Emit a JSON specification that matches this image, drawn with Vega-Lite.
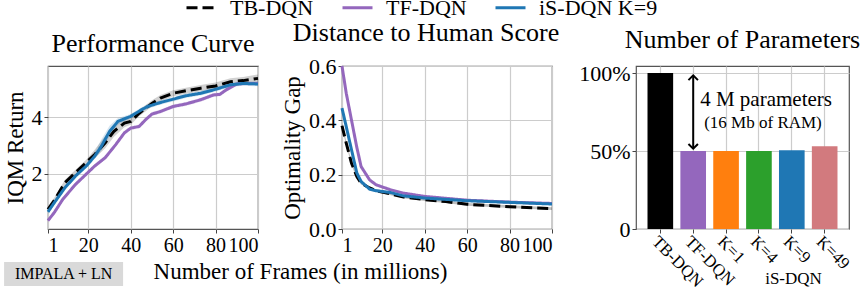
{
  "$schema": "https://vega.github.io/schema/vega-lite/v6.json",
  "background": "white",
  "padding": {"left": 3, "top": -9, "right": 0, "bottom": 2},
  "bounds": "flush",
  "spacing": 84,
  "config": {
    "font": "Times New Roman",
    "view": {"stroke": "#555555", "strokeWidth": 1.2},
    "axis": {
      "labelFont": "Times New Roman", "titleFont": "Times New Roman",
      "labelFontSize": 22, "titleFontSize": 23, "titleFontWeight": "normal",
      "labelColor": "#000000", "titleColor": "#000000", "labelOverlap": false,
      "gridColor": "#cccccc", "gridWidth": 1.2, "domain": false,
      "tickColor": "#444444", "tickSize": 4, "labelPadding": 2
    },
    "title": {"font": "Times New Roman", "fontSize": 26, "fontWeight": "normal", "color": "#000000", "offset": 9},
    "legend": {
      "orient": "none", "legendX": 137, "legendY": -75, "direction": "horizontal",
      "title": null, "symbolType": "stroke", "symbolStrokeWidth": 3, "symbolSize": 900, "symbolOpacity": 1,
      "labelFont": "Times New Roman", "labelFontSize": 22, "labelColor": "#000000",
      "columnPadding": 22, "labelOffset": 12
    }
  },
  "hconcat": [
    {
      "width": 210, "height": 163,
      "title": {"text": "Performance Curve"},
      "layer": [
        {
          "data": {"values": [
            {"m":"TB-DQN","x":1,"y":0.73,"lo":0.63,"hi":0.83},
            {"m":"TB-DQN","x":4,"y":1.05,"lo":0.95,"hi":1.15},
            {"m":"TB-DQN","x":9,"y":1.68,"lo":1.58,"hi":1.78},
            {"m":"TB-DQN","x":14,"y":2.04,"lo":1.94,"hi":2.14},
            {"m":"TB-DQN","x":19,"y":2.39,"lo":2.29,"hi":2.49},
            {"m":"TB-DQN","x":23,"y":2.68,"lo":2.55,"hi":2.85},
            {"m":"TB-DQN","x":28,"y":3.1,"lo":2.9,"hi":3.35},
            {"m":"TB-DQN","x":32,"y":3.5,"lo":3.3,"hi":3.7},
            {"m":"TB-DQN","x":37,"y":3.8,"lo":3.65,"hi":3.95},
            {"m":"TB-DQN","x":40,"y":3.86,"lo":3.74,"hi":3.98},
            {"m":"TB-DQN","x":44,"y":4.15,"lo":4.04,"hi":4.26},
            {"m":"TB-DQN","x":50,"y":4.5,"lo":4.39,"hi":4.61},
            {"m":"TB-DQN","x":54,"y":4.69,"lo":4.58,"hi":4.8},
            {"m":"TB-DQN","x":60,"y":4.86,"lo":4.75,"hi":4.97},
            {"m":"TB-DQN","x":66,"y":4.95,"lo":4.84,"hi":5.06},
            {"m":"TB-DQN","x":73,"y":5.04,"lo":4.93,"hi":5.15},
            {"m":"TB-DQN","x":80,"y":5.12,"lo":5.0,"hi":5.24},
            {"m":"TB-DQN","x":87,"y":5.27,"lo":5.15,"hi":5.39},
            {"m":"TB-DQN","x":93,"y":5.31,"lo":5.18,"hi":5.44},
            {"m":"TB-DQN","x":100,"y":5.39,"lo":5.25,"hi":5.53},
            {"m":"TF-DQN","x":1,"y":0.33,"lo":0.26,"hi":0.4},
            {"m":"TF-DQN","x":4,"y":0.62,"lo":0.55,"hi":0.69},
            {"m":"TF-DQN","x":8,"y":1.09,"lo":1.02,"hi":1.16},
            {"m":"TF-DQN","x":14,"y":1.62,"lo":1.55,"hi":1.69},
            {"m":"TF-DQN","x":19,"y":1.98,"lo":1.91,"hi":2.05},
            {"m":"TF-DQN","x":23,"y":2.27,"lo":2.2,"hi":2.34},
            {"m":"TF-DQN","x":28,"y":2.57,"lo":2.5,"hi":2.64},
            {"m":"TF-DQN","x":33,"y":3.04,"lo":2.97,"hi":3.11},
            {"m":"TF-DQN","x":37,"y":3.45,"lo":3.38,"hi":3.52},
            {"m":"TF-DQN","x":40,"y":3.62,"lo":3.55,"hi":3.69},
            {"m":"TF-DQN","x":44,"y":3.68,"lo":3.61,"hi":3.75},
            {"m":"TF-DQN","x":47,"y":3.92,"lo":3.85,"hi":3.99},
            {"m":"TF-DQN","x":50,"y":4.12,"lo":4.05,"hi":4.19},
            {"m":"TF-DQN","x":54,"y":4.21,"lo":4.14,"hi":4.28},
            {"m":"TF-DQN","x":60,"y":4.39,"lo":4.32,"hi":4.46},
            {"m":"TF-DQN","x":66,"y":4.48,"lo":4.41,"hi":4.55},
            {"m":"TF-DQN","x":73,"y":4.63,"lo":4.56,"hi":4.7},
            {"m":"TF-DQN","x":79,"y":4.8,"lo":4.73,"hi":4.87},
            {"m":"TF-DQN","x":82,"y":4.82,"lo":4.75,"hi":4.89},
            {"m":"TF-DQN","x":85,"y":4.98,"lo":4.91,"hi":5.05},
            {"m":"TF-DQN","x":90,"y":5.19,"lo":5.12,"hi":5.26},
            {"m":"TF-DQN","x":94,"y":5.21,"lo":5.14,"hi":5.28},
            {"m":"TF-DQN","x":100,"y":5.21,"lo":5.14,"hi":5.28},
            {"m":"iS-DQN K=9","x":1,"y":0.64,"lo":0.56,"hi":0.72},
            {"m":"iS-DQN K=9","x":4,"y":0.97,"lo":0.89,"hi":1.05},
            {"m":"iS-DQN K=9","x":9,"y":1.5,"lo":1.42,"hi":1.58},
            {"m":"iS-DQN K=9","x":14,"y":1.92,"lo":1.84,"hi":2.0},
            {"m":"iS-DQN K=9","x":19,"y":2.27,"lo":2.19,"hi":2.35},
            {"m":"iS-DQN K=9","x":23,"y":2.62,"lo":2.52,"hi":2.76},
            {"m":"iS-DQN K=9","x":26,"y":2.95,"lo":2.8,"hi":3.2},
            {"m":"iS-DQN K=9","x":30,"y":3.5,"lo":3.3,"hi":3.7},
            {"m":"iS-DQN K=9","x":34,"y":3.86,"lo":3.74,"hi":3.98},
            {"m":"iS-DQN K=9","x":40,"y":4.04,"lo":3.96,"hi":4.12},
            {"m":"iS-DQN K=9","x":45,"y":4.27,"lo":4.19,"hi":4.35},
            {"m":"iS-DQN K=9","x":48,"y":4.39,"lo":4.31,"hi":4.47},
            {"m":"iS-DQN K=9","x":54,"y":4.53,"lo":4.45,"hi":4.61},
            {"m":"iS-DQN K=9","x":60,"y":4.65,"lo":4.57,"hi":4.73},
            {"m":"iS-DQN K=9","x":66,"y":4.77,"lo":4.69,"hi":4.85},
            {"m":"iS-DQN K=9","x":73,"y":4.86,"lo":4.78,"hi":4.94},
            {"m":"iS-DQN K=9","x":80,"y":5.0,"lo":4.92,"hi":5.08},
            {"m":"iS-DQN K=9","x":87,"y":5.16,"lo":5.08,"hi":5.24},
            {"m":"iS-DQN K=9","x":93,"y":5.21,"lo":5.13,"hi":5.29},
            {"m":"iS-DQN K=9","x":100,"y":5.19,"lo":5.11,"hi":5.27}
          ]},
          "layer": [
            {
              "mark": {"type": "area", "opacity": 0.18},
              "encoding": {
                "x": {"field": "x", "type": "quantitative"},
                "y": {"field": "lo", "type": "quantitative"},
                "y2": {"field": "hi"},
                "color": {"field": "m", "type": "nominal"}
              }
            },
            {
              "mark": {"type": "line", "strokeWidth": 3},
              "encoding": {
                "x": {"field": "x", "type": "quantitative",
                  "scale": {"domain": [1, 100], "nice": false, "zero": false},
                  "axis": {"values": [1, 20, 40, 60, 80, 100], "labelFontSize": 20, "title": "Number of Frames (in millions)",
                    "titleX": 252, "titleY": 49, "titleAlign": "center", "titleBaseline": "alphabetic"}},
                "y": {"field": "y", "type": "quantitative",
                  "scale": {"domain": [0.03, 5.83], "nice": false, "zero": false},
                  "axis": {"values": [2, 4], "title": "IQM Return"}},
                "color": {"field": "m", "type": "nominal",
                  "scale": {"domain": ["TB-DQN", "TF-DQN", "iS-DQN K=9"], "range": ["#000000", "#9467bd", "#1f77b4"]}},
                "strokeDash": {"field": "m", "type": "nominal",
                  "scale": {"domain": ["TB-DQN", "TF-DQN", "iS-DQN K=9"], "range": [[11, 5], [1, 0], [1, 0]]}}
              }
            }
          ]
        },
        {
          "data": {"values": [{}]},
          "mark": {"type": "rect", "color": "#d9d9d9"},
          "encoding": {"x": {"datum": -19.7}, "x2": {"datum": 36.4}, "y": {"datum": -1.145}, "y2": {"datum": -2.0}}
        },
        {
          "data": {"values": [{}]},
          "mark": {"type": "text", "fontSize": 16, "font": "Times New Roman", "color": "#000000"},
          "encoding": {"x": {"datum": 8.35}, "y": {"datum": -1.57}, "text": {"value": "IMPALA + LN"}}
        }
      ]
    },
    {
      "width": 210, "height": 163,
      "title": {"text": "Distance to Human Score", "dx": -21},
      "data": {"values": [
        {"m":"TB-DQN","x":1,"y":0.38,"lo":0.37,"hi":0.39},
        {"m":"TB-DQN","x":3,"y":0.316,"lo":0.308,"hi":0.324},
        {"m":"TB-DQN","x":5.5,"y":0.242,"lo":0.235,"hi":0.249},
        {"m":"TB-DQN","x":8,"y":0.193,"lo":0.187,"hi":0.199},
        {"m":"TB-DQN","x":10,"y":0.169,"lo":0.164,"hi":0.174},
        {"m":"TB-DQN","x":14,"y":0.151,"lo":0.146,"hi":0.156},
        {"m":"TB-DQN","x":17,"y":0.141,"lo":0.136,"hi":0.146},
        {"m":"TB-DQN","x":24,"y":0.129,"lo":0.124,"hi":0.134},
        {"m":"TB-DQN","x":30,"y":0.118,"lo":0.113,"hi":0.123},
        {"m":"TB-DQN","x":40,"y":0.108,"lo":0.103,"hi":0.113},
        {"m":"TB-DQN","x":50,"y":0.101,"lo":0.096,"hi":0.106},
        {"m":"TB-DQN","x":60,"y":0.091,"lo":0.086,"hi":0.096},
        {"m":"TB-DQN","x":80,"y":0.082,"lo":0.077,"hi":0.087},
        {"m":"TB-DQN","x":100,"y":0.075,"lo":0.07,"hi":0.08},
        {"m":"TF-DQN","x":1,"y":0.6,"lo":0.592,"hi":0.608},
        {"m":"TF-DQN","x":3,"y":0.5,"lo":0.493,"hi":0.507},
        {"m":"TF-DQN","x":5.5,"y":0.4,"lo":0.394,"hi":0.406},
        {"m":"TF-DQN","x":8,"y":0.3,"lo":0.295,"hi":0.305},
        {"m":"TF-DQN","x":10,"y":0.23,"lo":0.226,"hi":0.234},
        {"m":"TF-DQN","x":14,"y":0.181,"lo":0.177,"hi":0.185},
        {"m":"TF-DQN","x":17,"y":0.163,"lo":0.159,"hi":0.167},
        {"m":"TF-DQN","x":24,"y":0.144,"lo":0.14,"hi":0.148},
        {"m":"TF-DQN","x":30,"y":0.132,"lo":0.128,"hi":0.136},
        {"m":"TF-DQN","x":40,"y":0.12,"lo":0.116,"hi":0.124},
        {"m":"TF-DQN","x":50,"y":0.113,"lo":0.109,"hi":0.117},
        {"m":"TF-DQN","x":60,"y":0.106,"lo":0.102,"hi":0.11},
        {"m":"TF-DQN","x":80,"y":0.099,"lo":0.095,"hi":0.103},
        {"m":"TF-DQN","x":100,"y":0.094,"lo":0.09,"hi":0.098},
        {"m":"iS-DQN K=9","x":1,"y":0.445,"lo":0.437,"hi":0.453},
        {"m":"iS-DQN K=9","x":3,"y":0.377,"lo":0.37,"hi":0.384},
        {"m":"iS-DQN K=9","x":5.5,"y":0.291,"lo":0.285,"hi":0.297},
        {"m":"iS-DQN K=9","x":8,"y":0.206,"lo":0.201,"hi":0.211},
        {"m":"iS-DQN K=9","x":10,"y":0.175,"lo":0.171,"hi":0.179},
        {"m":"iS-DQN K=9","x":14,"y":0.147,"lo":0.143,"hi":0.151},
        {"m":"iS-DQN K=9","x":17,"y":0.141,"lo":0.137,"hi":0.145},
        {"m":"iS-DQN K=9","x":24,"y":0.134,"lo":0.13,"hi":0.138},
        {"m":"iS-DQN K=9","x":30,"y":0.122,"lo":0.118,"hi":0.126},
        {"m":"iS-DQN K=9","x":40,"y":0.114,"lo":0.11,"hi":0.118},
        {"m":"iS-DQN K=9","x":50,"y":0.109,"lo":0.105,"hi":0.113},
        {"m":"iS-DQN K=9","x":60,"y":0.104,"lo":0.1,"hi":0.108},
        {"m":"iS-DQN K=9","x":80,"y":0.098,"lo":0.094,"hi":0.102},
        {"m":"iS-DQN K=9","x":100,"y":0.092,"lo":0.088,"hi":0.096}
      ]},
      "layer": [
        {
          "mark": {"type": "area", "opacity": 0.25},
          "encoding": {
            "x": {"field": "x", "type": "quantitative"},
            "y": {"field": "lo", "type": "quantitative"},
            "y2": {"field": "hi"},
            "color": {"field": "m", "type": "nominal"}
          }
        },
        {
          "mark": {"type": "line", "strokeWidth": 3},
          "encoding": {
            "x": {"field": "x", "type": "quantitative",
              "scale": {"domain": [1, 100], "nice": false, "zero": false},
              "axis": {"values": [1, 20, 40, 60, 80, 100], "labelFontSize": 20, "title": null}},
            "y": {"field": "y", "type": "quantitative",
              "scale": {"domain": [0, 0.6], "nice": false},
              "axis": {"values": [0, 0.2, 0.4, 0.6], "format": ".1f", "title": "Optimality Gap"}},
            "color": {"field": "m", "type": "nominal",
              "scale": {"domain": ["TB-DQN", "TF-DQN", "iS-DQN K=9"], "range": ["#000000", "#9467bd", "#1f77b4"]}},
            "strokeDash": {"field": "m", "type": "nominal",
              "scale": {"domain": ["TB-DQN", "TF-DQN", "iS-DQN K=9"], "range": [[11, 5], [1, 0], [1, 0]]}}
          }
        }
      ]
    },
    {
      "width": 213, "height": 163,
      "title": {"text": "Number of Parameters"},
      "layer": [
        {
          "data": {"values": [
            {"method": "TB-DQN", "p": 1.0},
            {"method": "TF-DQN", "p": 0.5},
            {"method": "K=1", "p": 0.5},
            {"method": "K=4", "p": 0.5},
            {"method": "K=9", "p": 0.505},
            {"method": "K=49", "p": 0.53}
          ]},
          "mark": {"type": "bar"},
          "encoding": {
            "x": {"field": "method", "type": "nominal",
              "scale": {"domain": ["TB-DQN", "TF-DQN", "K=1", "K=4", "K=9", "K=49"], "paddingInner": 0.22, "paddingOuter": 0.35},
              "axis": {"labelAngle": 45, "labelAlign": "left", "labelBaseline": "top", "labelFontSize": 17, "labelPadding": 0, "grid": true,
                "title": "iS-DQN", "titleFontSize": 17, "titleX": 157, "titleY": 54, "titleAlign": "center", "titleBaseline": "alphabetic"}},
            "y": {"field": "p", "type": "quantitative",
              "scale": {"domain": [0, 1.045], "nice": false},
              "axis": {"values": [0, 0.5, 1], "title": null,
                "labelExpr": "datum.value == 0 ? '0' : format(datum.value * 100, 'd') + '%'"}},
            "fill": {"field": "method", "type": "nominal",
              "scale": {"domain": ["TB-DQN", "TF-DQN", "K=1", "K=4", "K=9", "K=49"],
                "range": ["#000000", "#9467bd", "#ff7f0e", "#2ca02c", "#1f77b4", "#d27a7e"]},
              "legend": null}
          }
        },
        {
          "data": {"values": [{}]},
          "mark": {"type": "rule", "color": "#000000", "strokeWidth": 2},
          "encoding": {"x": {"datum": "TF-DQN"}, "y": {"datum": 0.515}, "y2": {"datum": 0.985}}
        },
        {
          "data": {"values": [{}]},
          "mark": {"type": "point", "shape": "M-1,1L0,0L1,1", "filled": false, "color": "#000000", "strokeWidth": 2, "size": 90, "opacity": 1},
          "encoding": {"x": {"datum": "TF-DQN"}, "y": {"datum": 0.985}}
        },
        {
          "data": {"values": [{}]},
          "mark": {"type": "point", "shape": "M-1,-1L0,0L1,-1", "filled": false, "color": "#000000", "strokeWidth": 2, "size": 90, "opacity": 1},
          "encoding": {"x": {"datum": "TF-DQN"}, "y": {"datum": 0.515}}
        },
        {
          "data": {"values": [{}]},
          "mark": {"type": "text", "align": "left", "dx": 7, "fontSize": 21, "font": "Times New Roman", "color": "#000000"},
          "encoding": {"x": {"datum": "TF-DQN"}, "y": {"datum": 0.83}, "text": {"value": "4 M parameters"}}
        },
        {
          "data": {"values": [{}]},
          "mark": {"type": "text", "align": "left", "dx": 11, "fontSize": 17, "font": "Times New Roman", "color": "#000000"},
          "encoding": {"x": {"datum": "TF-DQN"}, "y": {"datum": 0.68}, "text": {"value": "(16 Mb of RAM)"}}
        }
      ]
    }
  ]
}
